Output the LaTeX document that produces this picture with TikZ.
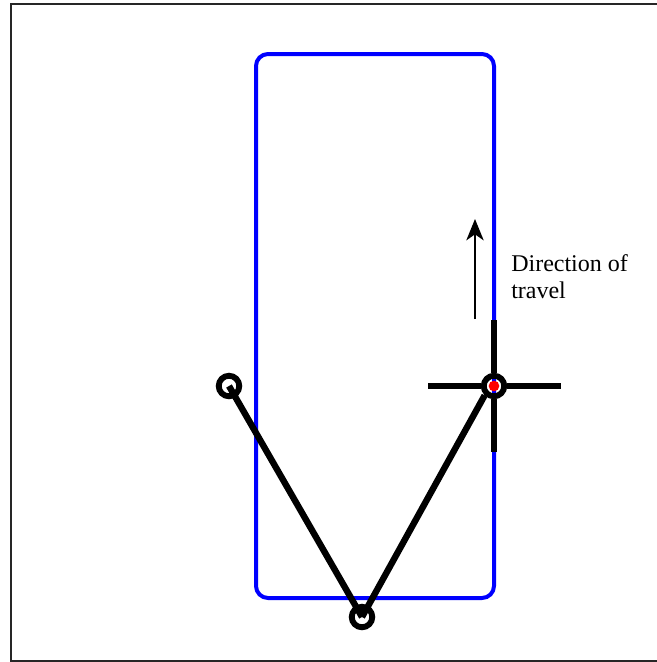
\documentclass[tikz,border=0pt]{standalone}
\usepackage{fontspec}
\setmainfont{Liberation Serif}
\usetikzlibrary{arrows.meta}
\tikzset{
  track/.style={draw=blue, line width=3pt, rounded corners=9pt},
  arm/.style={draw=black, line width=4.8pt},
  joint/.style={circle, draw=black, line width=4.4pt, minimum size=15.4pt, inner sep=0pt},
  travel/.style={draw=black, line width=1.5pt, -{Stealth[length=16pt,width=13pt,inset=4.5pt]}},
}
\begin{document}
\begin{tikzpicture}[x=0.75pt, y=-0.75pt]
  \useasboundingbox (0,0) rectangle (657,662);
  % frame
  \draw[line width=1pt, black!85] (657,4) -- (11,4) -- (11,661) -- (657,661);
  % path of the vehicle
  \draw[track] (256,54) rectangle (494,598);
  % direction arrow and label
  \coordinate (tail) at (475,319);
  \coordinate (head) at (475,219);
  \draw[travel] (tail) -- (head);
  \node[anchor=north west, align=left, inner sep=0pt, font=\fontsize{18}{20.5}\selectfont] (lab) at (511,254)
    {Direction of\\travel};
  % joints
  \node[joint] (left) at (229,386) {};
  \node[joint] (bottom) at (362,617) {};
  \node[joint] (right) at (494,386) {};
  \fill[red] (right) circle (4pt);
  % arms
  \draw[arm] (left.center) -- (bottom.center);
  \draw[arm] (bottom.center) -- (right.south west);
  % cross
  \coordinate (crossw) at (428,386);
  \coordinate (crosse) at (561,386);
  \coordinate (crossn) at (494,320);
  \coordinate (crosss) at (494,452);
  \draw[arm] (crossw) -- (right.west);
  \draw[arm] (right.east) -- (crosse);
  \draw[arm] (crossn) -- (right.north);
  \draw[arm] (right.south) -- (crosss);
\end{tikzpicture}
\end{document}
